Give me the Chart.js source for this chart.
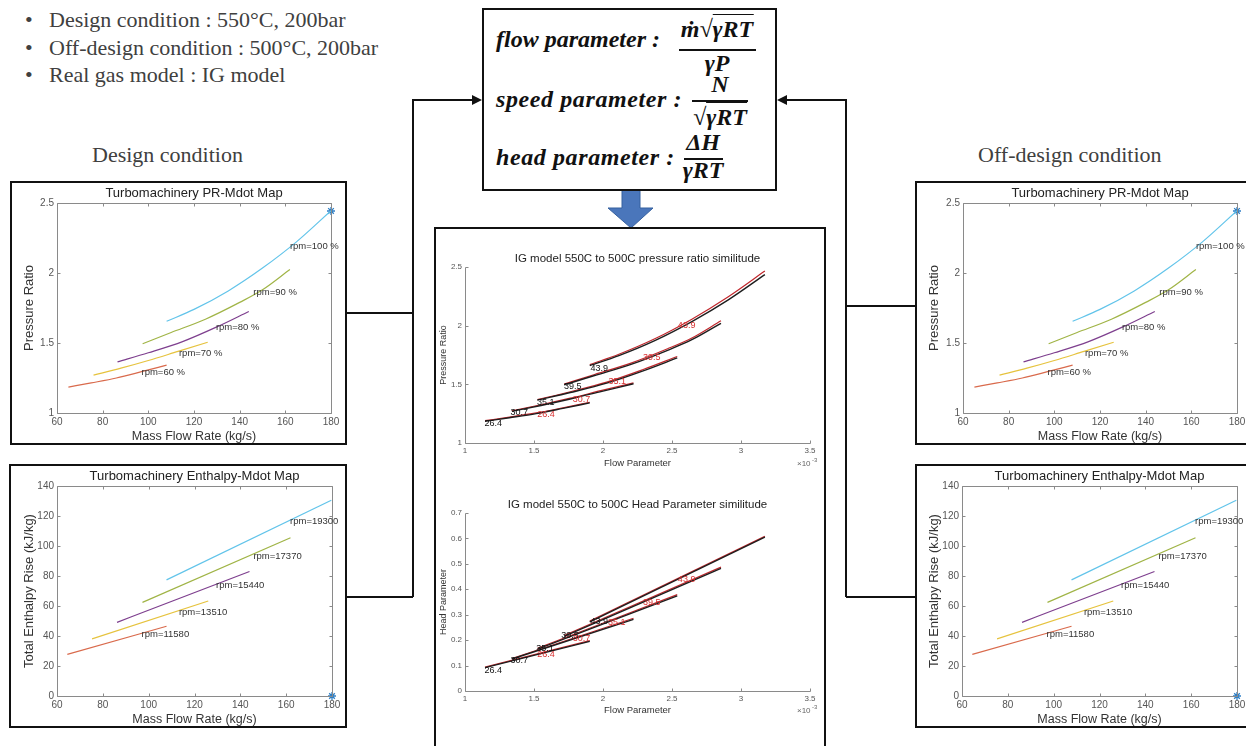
<!DOCTYPE html>
<html>
<head>
<meta charset="utf-8">
<script src="https://cdn.jsdelivr.net/npm/chart.js@4.4.1/dist/chart.umd.min.js"></script>
<style>
  body { margin: 0; width: 1246px; height: 746px; overflow: hidden; background: #fff; position: relative; }
  .box { position: absolute; border: 2px solid #111; box-sizing: border-box; }
  canvas { position: absolute; }
  .txt { position: absolute; font-family: "Liberation Serif", serif; font-size: 22px; line-height: 1; color: #404040; white-space: nowrap; }
  .f { position: absolute; font-family: "Liberation Serif", serif; font-weight: bold; font-style: italic; font-size: 24px; line-height: 1; color: #111; white-space: nowrap; }
  .c { transform: translateX(-50%); }
  .ov { border-top: 1.6px solid #111; padding-top: 1px; }
  .bar { position: absolute; height: 2px; background: #111; }
</style>
</head>
<body>

<div class="txt" style="left:25px;top:9px">•</div>
<div class="txt" style="left:49px;top:9px">Design condition : 550°C, 200bar</div>
<div class="txt" style="left:25px;top:37px">•</div>
<div class="txt" style="left:49px;top:37px">Off-design condition : 500°C, 200bar</div>
<div class="txt" style="left:25px;top:64px">•</div>
<div class="txt" style="left:49px;top:64px">Real gas model : IG model</div>

<div class="txt" style="left:92px;top:144px">Design condition</div>
<div class="txt" style="left:978px;top:144px">Off-design condition</div>

<svg width="1246" height="746" style="position:absolute;left:0;top:0">
  <g stroke="#111" stroke-width="2" fill="none">
    <path d="M347 313 H413 M347 597 H413 M413 597 V100 H474"/>
    <path d="M915 306 H846 M915 597 H846 M846 597 V100 H785"/>
  </g>
  <polygon points="482,100 472,95 472,105" fill="#111"/>
  <polygon points="777,100 787,95 787,105" fill="#111"/>
  <polygon points="622,190 640,190 640,208 653,208 631,228 608,208 622,208" fill="#4a76bb" stroke="#35609f" stroke-width="1"/>
</svg>

<!-- parameter definitions -->
<div class="box" style="left:482px;top:8px;width:295px;height:183px"></div>
<div class="f" style="left:496px;top:27px">flow parameter :</div>
<div class="f c" style="left:717px;top:17px">ṁ√<span class="ov">γRT</span></div>
<div class="bar" style="left:679px;top:49px;width:77px"></div>
<div class="f c" style="left:717px;top:51px">γP</div>

<div class="f" style="left:496px;top:87px;letter-spacing:0.6px">speed parameter :</div>
<div class="f c" style="left:720px;top:72px">N</div>
<div class="bar" style="left:692px;top:100px;width:56px"></div>
<div class="f c" style="left:720px;top:105px">√<span class="ov">γRT</span></div>

<div class="f" style="left:496px;top:145px;letter-spacing:0.6px">head parameter :</div>
<div class="f c" style="left:703px;top:130px">ΔH</div>
<div class="bar" style="left:684px;top:158px;width:39px"></div>
<div class="f c" style="left:703px;top:158px">γRT</div>

<!-- chart frames -->
<div class="box" style="left:10px;top:181px;width:337px;height:264px"></div>
<div class="box" style="left:9px;top:464px;width:338px;height:264px"></div>
<div class="box" style="left:915px;top:181px;width:345px;height:264px"></div>
<div class="box" style="left:915px;top:464px;width:345px;height:264px"></div>
<div class="box" style="left:434px;top:227px;width:392px;height:540px"></div>

<canvas id="prLeft" width="333" height="260" style="left:12px;top:183px"></canvas>
<canvas id="dhLeft" width="333" height="260" style="left:12px;top:466px"></canvas>
<canvas id="prRight" width="340" height="260" style="left:917px;top:183px"></canvas>
<canvas id="dhRight" width="340" height="260" style="left:917px;top:466px"></canvas>
<canvas id="prSim" width="386" height="240" style="left:437px;top:232px"></canvas>
<canvas id="headSim" width="386" height="250" style="left:437px;top:472px"></canvas>

<script>
// ---- turbomachinery maps (design and off-design maps look the same) ----
const prCurveLabels = ['rpm=60 %', 'rpm=70 %', 'rpm=80 %', 'rpm=90 %', 'rpm=100 %'];
const dhCurveLabels = ['rpm=11580', 'rpm=13510', 'rpm=15440', 'rpm=17370', 'rpm=19300'];

const mdotPR = [
  [65, 75, 86, 97, 108],
  [76, 88, 100, 113, 126],
  [86.5, 100, 115, 130, 144],
  [97.5, 110, 125, 140, 150, 162],
  [108, 120, 135, 150, 165, 180]
];
const pressureRatio = [
  [1.185, 1.215, 1.25, 1.295, 1.342],
  [1.27, 1.32, 1.375, 1.44, 1.505],
  [1.365, 1.43, 1.51, 1.615, 1.725],
  [1.495, 1.575, 1.67, 1.79, 1.88, 2.025],
  [1.655, 1.74, 1.872, 2.035, 2.224, 2.445]
];
const mdotDH = [[64.5, 107.8], [75.3, 126], [86.2, 144], [97.3, 161.9], [107.8, 179.7]];
const enthalpyRise = [[27.7, 46.5], [38.1, 63.3], [49.1, 83], [62.4, 105.5], [77.4, 130.5]];
const designMdot = 180;
const designPR = 2.443;
const designDH = 0;

// label anchors (left edge, vertical middle) in data units
const prLabelAt = [[97, 1.29], [113.4, 1.427], [129.6, 1.61], [146, 1.86], [162, 2.19]];
const dhLabelAt = [[96.9, 41.4], [113.2, 56], [129.4, 73.5], [145.7, 93.4], [161.7, 116.6]];

const mdotTicks = [60, 80, 100, 120, 140, 160, 180];
const mdotTickLabels = ['60', '80', '100', '120', '140', '160', '180'];
const prTicks = [1, 1.5, 2, 2.5];
const prTickLabels = ['1', '1.5', '2', '2.5'];
const dhTicks = [0, 20, 40, 60, 80, 100, 120, 140];
const dhTickLabels = ['0', '20', '40', '60', '80', '100', '120', '140'];

// ---- similitude plots (flow parameter in 1e-3 units) ----
const speedParam = ['26.4', '30.7', '35.1', '39.5', '43.9'];
const flowParam = [
  [1.145, 1.322, 1.516, 1.710, 1.904],
  [1.340, 1.551, 1.763, 1.992, 2.221],
  [1.525, 1.763, 2.027, 2.291, 2.538],
  [1.718, 1.939, 2.203, 2.468, 2.644, 2.855],
  [1.904, 2.115, 2.379, 2.644, 2.908, 3.173]
];
const prSim550 = [
  [1.185, 1.215, 1.25, 1.295, 1.342],
  [1.27, 1.32, 1.375, 1.44, 1.505],
  [1.365, 1.43, 1.51, 1.615, 1.725],
  [1.495, 1.575, 1.67, 1.79, 1.88, 2.02],
  [1.66, 1.745, 1.875, 2.035, 2.22, 2.435]
];
const prSim500 = [
  [1.19, 1.22, 1.256, 1.30, 1.347],
  [1.275, 1.326, 1.382, 1.448, 1.512],
  [1.37, 1.437, 1.519, 1.626, 1.737],
  [1.502, 1.584, 1.681, 1.803, 1.895, 2.042],
  [1.668, 1.756, 1.89, 2.055, 2.246, 2.465]
];
const headFlow = [[1.145, 1.904], [1.340, 2.221], [1.525, 2.538], [1.718, 2.855], [1.904, 3.173]];
const head550 = [[0.092, 0.195], [0.126, 0.282], [0.165, 0.374], [0.215, 0.482], [0.272, 0.605]];
const head500 = [[0.094, 0.198], [0.128, 0.286], [0.168, 0.379], [0.218, 0.487], [0.275, 0.608]];

// label centres in data units
const prSim550At = [[1.205, 1.17], [1.394, 1.261], [1.585, 1.349], [1.78, 1.483], [1.973, 1.639]];
const prSim500At = [[1.587, 1.247], [1.845, 1.369], [2.104, 1.526], [2.353, 1.73], [2.606, 2.0]];
const head550At = [[1.205, 0.082], [1.394, 0.118], [1.58, 0.167], [1.761, 0.217], [1.973, 0.272]];
const head500At = [[1.587, 0.143], [1.845, 0.207], [2.099, 0.268], [2.353, 0.349], [2.606, 0.439]];

const flowTicks = [1, 1.5, 2, 2.5, 3, 3.5];
const flowTickLabels = ['1', '1.5', '2', '2.5', '3', '3.5'];
const headTicks = [0, 0.1, 0.2, 0.3, 0.4, 0.5, 0.6, 0.7];
const headTickLabels = ['0', '0.1', '0.2', '0.3', '0.4', '0.5', '0.6', '0.7'];

const mapColors = ['#d96a4c', '#e6c33e', '#7e3f8e', '#a0b446', '#62c4ea'];
const FONT = 'Liberation Sans';

Chart.defaults.font.family = FONT;

const pts = (xs, ys) => xs.map((x, i) => ({ x, y: ys[i] }));

// matlab style axes: frame (or just left/bottom) with inward ticks
const matlabAxes = {
  id: 'matlabAxes',
  afterDatasetsDraw(chart, args, opts) {
    if (!opts.color) return;
    const { ctx, chartArea: a, scales: { x, y } } = chart;
    const len = opts.len;
    ctx.save();
    ctx.strokeStyle = opts.color;
    ctx.lineWidth = 1;
    ctx.beginPath();
    const L = Math.round(a.left) + 0.5, R = Math.round(a.right) + 0.5;
    const T = Math.round(a.top) + 0.5, B = Math.round(a.bottom) + 0.5;
    ctx.moveTo(L, T); ctx.lineTo(L, B); ctx.lineTo(R, B);
    if (opts.box) { ctx.lineTo(R, T); ctx.lineTo(L, T); }
    x.ticks.forEach(t => {
      const px = Math.round(x.getPixelForValue(t.value)) + 0.5;
      ctx.moveTo(px, B); ctx.lineTo(px, B - len);
      if (opts.box) { ctx.moveTo(px, T); ctx.lineTo(px, T + len); }
    });
    y.ticks.forEach(t => {
      const py = Math.round(y.getPixelForValue(t.value)) + 0.5;
      ctx.moveTo(L, py); ctx.lineTo(L + len, py);
      if (opts.box) { ctx.moveTo(R, py); ctx.lineTo(R - len, py); }
    });
    ctx.stroke();
    ctx.restore();
  }
};

const curveLabels = {
  id: 'curveLabels',
  afterDatasetsDraw(chart, args, opts) {
    if (!opts.groups) return;
    const { ctx, scales: { x, y } } = chart;
    ctx.save();
    ctx.textBaseline = 'middle';
    opts.groups.forEach(g => {
      ctx.font = g.font;
      ctx.fillStyle = g.color;
      ctx.textAlign = g.align;
      g.texts.forEach((t, i) => {
        ctx.fillText(t, x.getPixelForValue(g.at[i][0]), y.getPixelForValue(g.at[i][1]));
      });
    });
    ctx.restore();
  }
};

// the "x10^-3" multiplier under the right end of the x axis
const axisExponent = {
  id: 'axisExponent',
  afterDraw(chart, args, opts) {
    if (!opts.dy) return;
    const { ctx, chartArea: a } = chart;
    ctx.save();
    ctx.fillStyle = '#666';
    ctx.textBaseline = 'middle';
    ctx.textAlign = 'left';
    ctx.font = '8px ' + FONT;
    ctx.fillText('×10', a.right - 13, a.bottom + opts.dy);
    ctx.font = '6px ' + FONT;
    ctx.fillText('-3', a.right + 2, a.bottom + opts.dy - 4);
    ctx.restore();
  }
};

Chart.register(matlabAxes, curveLabels, axisExponent);

function scale(axis, min, max, ticks, labels, tickSize, title, titleSize, titlePad, fit) {
  return {
    type: 'linear', min, max,
    afterBuildTicks: s => { s.ticks = ticks.map(v => ({ value: v })); },
    ticks: { font: { size: tickSize }, color: '#555', padding: 3, autoSkip: false, maxRotation: 0,
             callback: (v, i) => labels[i] },
    grid: { display: false, drawTicks: false },
    border: { display: false },
    title: { display: true, text: title, color: '#333', font: { size: titleSize, lineHeight: 1 }, padding: titlePad },
    afterFit: s => { if (axis === 'x') s.height = fit; else s.width = fit; }
  };
}

function mapChart(id, kind, yLeft, padRight) {
  const isPR = kind === 'pr';
  const xs = isPR ? mdotPR : mdotDH;
  const ys = isPR ? pressureRatio : enthalpyRise;
  const datasets = xs.map((x, i) => ({
    data: pts(x, ys[i]), borderColor: mapColors[i], borderWidth: 1.2,
    pointRadius: 0, cubicInterpolationMode: 'monotone'
  }));
  datasets.push({
    data: [{ x: designMdot, y: isPR ? designPR : designDH }], showLine: false, clip: false,
    pointStyle: 'star', pointRadius: 4, borderColor: '#2e7fc6', borderWidth: 1.3
  });
  new Chart(document.getElementById(id), {
    type: 'line',
    data: { datasets },
    options: {
      responsive: false, animation: false,
      layout: { padding: { top: 0, right: padRight, bottom: 0, left: 0 } },
      plugins: {
        legend: { display: false }, tooltip: { enabled: false },
        title: { display: true, fullSize: false,
                 text: isPR ? 'Turbomachinery PR-Mdot Map' : 'Turbomachinery Enthalpy-Mdot Map',
                 color: '#222', font: { size: 13, weight: 'normal', lineHeight: 1.2 }, padding: { top: 2.5, bottom: 1.9 } },
        matlabAxes: { color: '#8a8a8a', len: 3, box: true },
        curveLabels: { groups: [{ texts: isPR ? prCurveLabels : dhCurveLabels, at: isPR ? prLabelAt : dhLabelAt,
                                  font: '9.5px ' + FONT, color: '#333', align: 'left' }] }
      },
      scales: {
        x: scale('x', 60, 180, mdotTicks, mdotTickLabels, 10, 'Mass Flow Rate (kg/s)', 12.5, { top: 0, bottom: 0 }, 30),
        y: isPR
          ? scale('y', 1, 2.5, prTicks, prTickLabels, 10, 'Pressure Ratio', 13, { top: 11, bottom: 0 }, yLeft)
          : scale('y', 0, 140, dhTicks, dhTickLabels, 10, 'Total Enthalpy Rise (kJ/kg)', 13, { top: 11, bottom: 0 }, yLeft)
      }
    }
  });
}

mapChart('prLeft', 'pr', 45, 14);
mapChart('dhLeft', 'dh', 45, 13);
mapChart('prRight', 'pr', 46, 20);
mapChart('dhRight', 'dh', 45, 20);

function simChart(id, title, xs, ys550, ys500, at550, at500, yScale, titlePad, xFit, xTitlePad, expDy) {
  const datasets = [];
  xs.forEach((x, i) => datasets.push({ data: pts(x, ys550[i]), borderColor: '#1e1e1e', borderWidth: 1.4,
                                       pointRadius: 0, cubicInterpolationMode: 'monotone' }));
  xs.forEach((x, i) => datasets.push({ data: pts(x, ys500[i]), borderColor: '#c0262b', borderWidth: 1.2,
                                       pointRadius: 0, cubicInterpolationMode: 'monotone' }));
  new Chart(document.getElementById(id), {
    type: 'line',
    data: { datasets },
    options: {
      responsive: false, animation: false,
      layout: { padding: { top: 0, right: 13, bottom: 0, left: 0 } },
      plugins: {
        legend: { display: false }, tooltip: { enabled: false },
        title: { display: true, fullSize: false, text: title, color: '#222',
                 font: { size: 11.5, weight: 'normal', lineHeight: 1.2 }, padding: titlePad },
        matlabAxes: { color: '#8a8a8a', len: 3, box: false },
        curveLabels: { groups: [
          { texts: speedParam, at: at550, font: '9px ' + FONT, color: '#111', align: 'center' },
          { texts: speedParam, at: at500, font: '9px ' + FONT, color: '#d83030', align: 'center' }
        ] },
        axisExponent: { dy: expDy }
      },
      scales: {
        x: scale('x', 1, 3.5, flowTicks, flowTickLabels, 8, 'Flow Parameter', 9.5, xTitlePad, xFit),
        y: yScale
      }
    }
  });
}

simChart('prSim', 'IG model 550C to 500C pressure ratio similitude', flowParam, prSim550, prSim500, prSim550At, prSim500At,
  scale('y', 1, 2.5, prTicks, prTickLabels, 8, 'Pressure Ratio', 9, { top: 2, bottom: 0 }, 28),
  { top: 20.1, bottom: 1.1 }, 29, { top: 0, bottom: 4.2 }, 21);

simChart('headSim', 'IG model 550C to 500C Head Parameter similitude', headFlow, head550, head500, head550At, head500At,
  scale('y', 0, 0.7, headTicks, headTickLabels, 8, 'Head Parameter', 9, { top: 2, bottom: 0 }, 28),
  { top: 26.1, bottom: 1.1 }, 31, { top: 0, bottom: 7.2 }, 20);
</script>
</body>
</html>
